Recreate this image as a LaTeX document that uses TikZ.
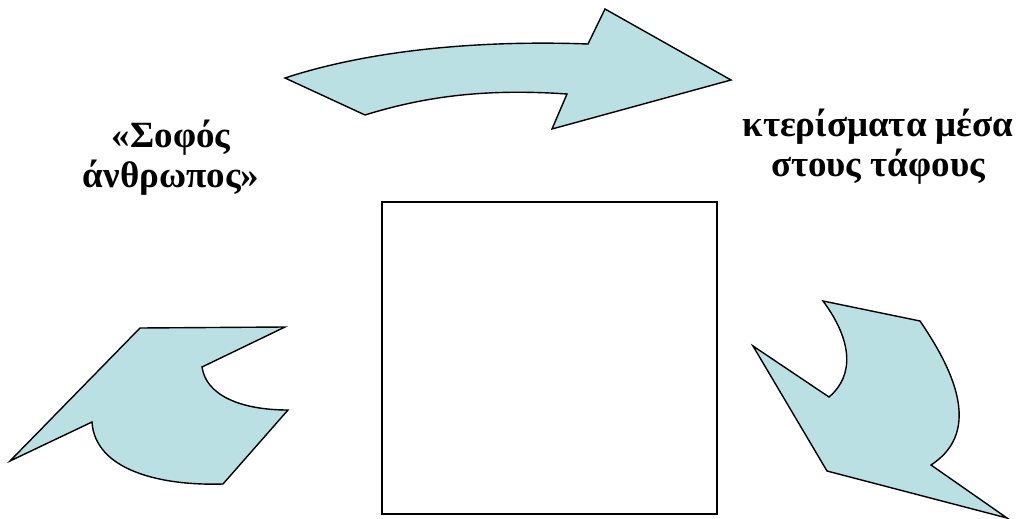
\documentclass[tikz,border=0pt]{standalone}
\usepackage{fontspec}
\setmainfont{Liberation Serif}
\definecolor{shapefill}{RGB}{187,224,227}
\tikzset{
  bluearrow/.style={draw=black, fill=shapefill, line width=1.4pt, line join=miter},
  frame/.style={draw=black, line width=1.8pt},
  label/.style={align=center, font=\fontsize{37}{40}\selectfont\bfseries, inner sep=0pt}
}
\begin{document}
\begin{tikzpicture}[x=1pt,y=-1pt]
\useasboundingbox (0,0) rectangle (1020,519);
% top arrow
\draw[bluearrow] (285,78) .. controls (370,50) and (480,40) .. (588,44)
  -- (605,9) -- (731,80) -- (552,129) -- (567,94)
  .. controls (480,88) and (420,98) .. (365,115) -- cycle;
% bottom-left arrow
\draw[bluearrow] (140,328) -- (285,327) -- (202,367)
  .. controls (206,395) and (240,410) .. (288,410)
  -- (223,484) .. controls (160,486) and (95,470) .. (92,422)
  -- (10,461) -- cycle;
% bottom-right arrow
\draw[bluearrow] (823,301) -- (920,321)
  .. controls (950,365) and (985,430) .. (931,465)
  -- (1007,518) -- (827,471) -- (753,346) -- (829,397)
  .. controls (855,375) and (852,340) .. (823,301) -- cycle;
% central box
\node[frame, minimum width=335pt, minimum height=312pt, anchor=north west, inner sep=0pt] (box) at (381,201) {};
% labels
\node[label] (left) at (171,158) {«Σοφός\\άνθρωπος»};
\node[label] (right) at (878,147) {κτερίσματα μέσα\\στους τάφους};
\end{tikzpicture}
\end{document}
